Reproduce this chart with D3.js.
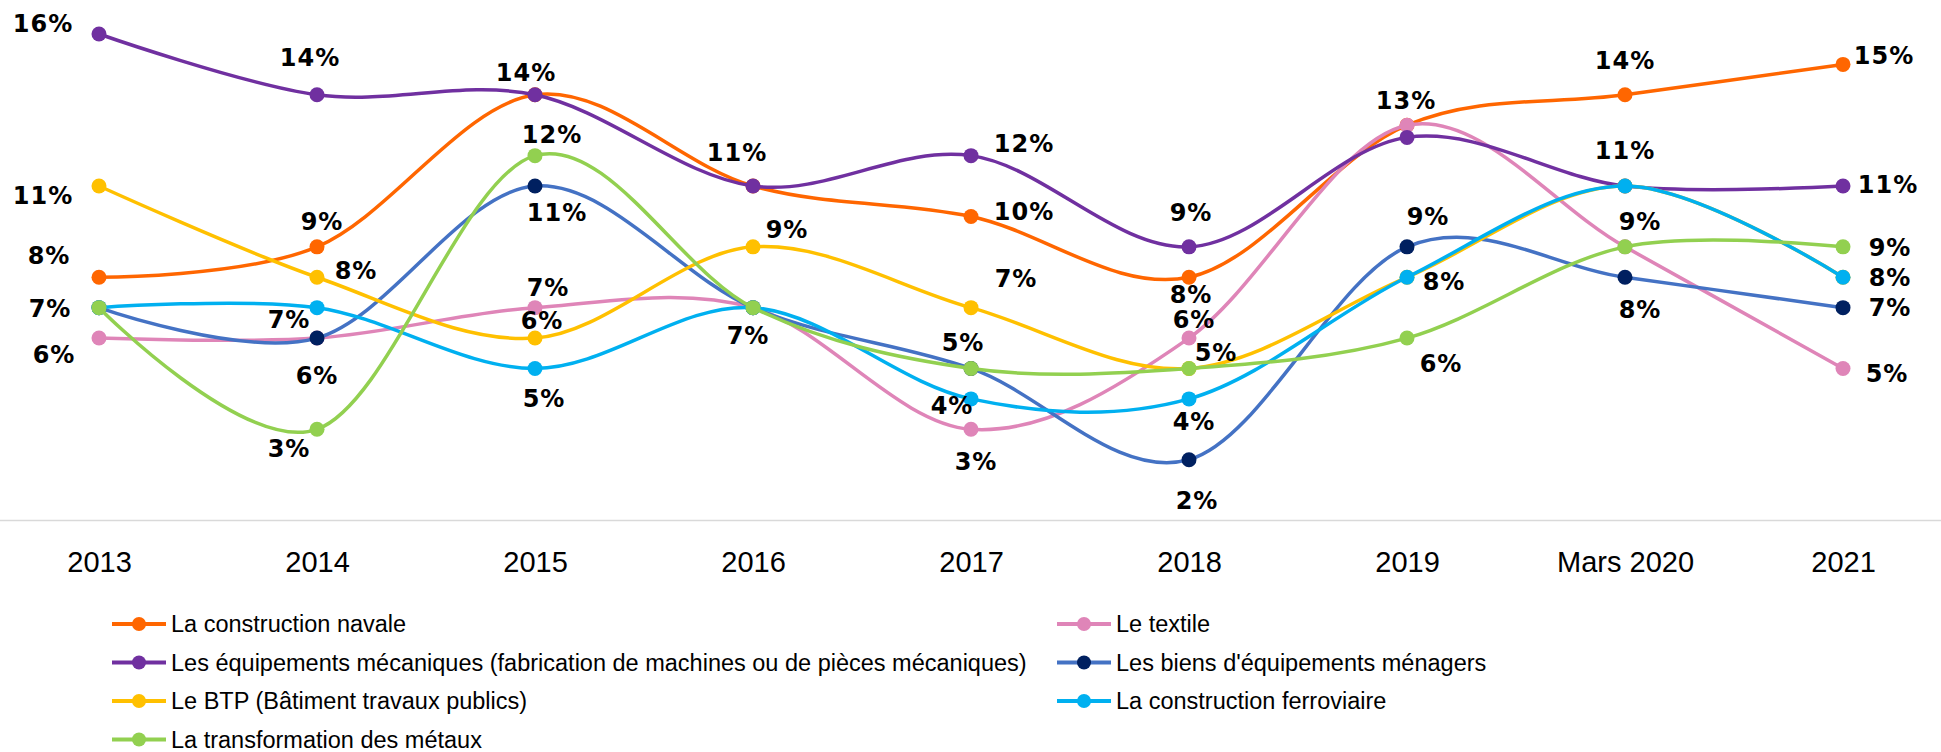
<!DOCTYPE html>
<html>
<head>
<meta charset="utf-8">
<script src="https://cdn.jsdelivr.net/npm/d3@7"></script>
<style>
  body { margin: 0; background: #fff; }
  .val { font-family: "DejaVu Sans", Verdana, sans-serif; font-weight: bold; font-size: 24px; letter-spacing: 1px; fill: #000; }
  .tick-lbl, .leg-lbl { font-family: "Liberation Sans", Arial, sans-serif; fill: #000; }
</style>
</head>
<body>
<div id="chart"></div>
<script>
const categories = ["2013", "2014", "2015", "2016", "2017", "2018", "2019", "Mars 2020", "2021"];

const seriesNames = [
  "La construction navale",
  "Le textile",
  "Les équipements mécaniques (fabrication de machines ou de pièces mécaniques)",
  "Les biens d'équipements ménagers",
  "Le BTP (Bâtiment travaux publics)",
  "La construction ferroviaire",
  "La transformation des métaux",
];

const navale = [8, 9, 14, 11, 10, 8, 13, 14, 15];
const textile = [6, 6, 7, 7, 3, 6, 13, 9, 5];
const mecaniques = [16, 14, 14, 11, 12, 9, 12.6, 11, 11];
const menagers = [7, 6, 11, 7, 5, 2, 9, 8, 7];
const btp = [11, 8, 6, 9, 7, 5, 8, 11, 8];
const ferroviaire = [7, 7, 5, 7, 4, 4, 8, 11, 8];
const metaux = [7, 3, 12, 7, 5, 5, 6, 9, 9];

const seriesValues = [navale, textile, mecaniques, menagers, btp, ferroviaire, metaux];

const lineColors = ["#FF6600", "#DF85B8", "#7030A0", "#4472C4", "#FFC000", "#00B0F0", "#92D050"];
const markerColors = ["#FF6600", "#DF85B8", "#7030A0", "#002060", "#FFC000", "#00B0F0", "#92D050"];

// label placement: [series, point, dx, dy] (offsets from the marker)
const labelSpots = [
  [2, 0, -56, -10], [4, 0, -56, 10], [0, 0, -50, -21], [6, 0, -49, 1], [1, 0, -45, 17],
  [2, 1, -7, -37], [0, 1, 5, -25], [4, 1, 39, -6], [5, 1, -28, 12], [3, 1, 0, 38], [6, 1, -28, 20],
  [2, 2, -9, -22], [6, 2, 17, -21], [3, 2, 22, 27], [1, 2, 13, -20], [4, 2, 7, -17], [5, 2, 9, 31],
  [2, 3, -16, -33], [4, 3, 34, -17], [6, 3, -5, 28],
  [2, 4, 53, -12], [0, 4, 53, -4], [4, 4, 45, -29], [6, 4, -8, -25], [5, 4, -19, 7], [1, 4, 5, 33],
  [2, 5, 2, -34], [0, 5, 2, 18], [1, 5, 5, -18], [6, 5, 27, -15], [5, 5, 5, 23], [3, 5, 8, 41],
  [0, 6, -1, -24], [3, 6, 21, -30], [5, 6, 37, 5], [6, 6, 34, 26],
  [0, 7, 0, -34], [5, 7, 0, -35], [6, 7, 15, -25], [3, 7, 15, 33],
  [0, 8, 41, -8], [2, 8, 45, -1], [6, 8, 47, 1], [5, 8, 47, 1], [3, 8, 47, 0], [1, 8, 44, 6],
];

const width = 1941;
const height = 752;

const svg = d3.select("#chart").append("svg")
  .attr("width", width)
  .attr("height", height);

const x = d3.scalePoint().domain(categories).range([99, 1843]);
const y = d3.scaleLinear().domain([0, 16]).range([520.5, 34]);

// baseline
svg.append("line")
  .attr("x1", 0).attr("x2", width)
  .attr("y1", y(0)).attr("y2", y(0))
  .attr("stroke", "#D9D9D9")
  .attr("stroke-width", 1.5);

const xAxis = d3.axisBottom(x).tickSize(0);
svg.append("g")
  .attr("transform", `translate(0, ${y(0)})`)
  .call(xAxis)
  .call((g) => g.select(".domain").remove())
  .selectAll("text")
  .attr("class", "tick-lbl")
  .attr("y", 41)
  .attr("dy", "0.35em")
  .style("font-size", "29px")
  .style("font-family", null);

const line = d3.line()
  .curve(d3.curveCardinal.tension(0))
  .x((d, i) => x(categories[i]))
  .y((d) => y(d));

seriesValues.forEach((vals, s) => {
  const g = svg.append("g").attr("class", "series");
  g.append("path")
    .datum(vals)
    .attr("fill", "none")
    .attr("stroke", lineColors[s])
    .attr("stroke-width", 3.5)
    .attr("d", line);
  g.selectAll("circle")
    .data(vals)
    .join("circle")
    .attr("cx", (d, i) => x(categories[i]))
    .attr("cy", (d) => y(d))
    .attr("r", 7.5)
    .attr("fill", markerColors[s]);
});

svg.append("g")
  .selectAll("text")
  .data(labelSpots)
  .join("text")
  .attr("class", "val")
  .attr("text-anchor", "middle")
  .attr("dominant-baseline", "central")
  .attr("x", (d) => x(categories[d[1]]) + d[2])
  .attr("y", (d) => y(seriesValues[d[0]][d[1]]) + d[3])
  .text((d) => Math.round(seriesValues[d[0]][d[1]]) + "%");

// legend, two columns filled row by row
const legendCols = [112, 1057];
const legendTop = 624;
const legendStep = 38.5;

const legend = svg.append("g")
  .selectAll("g")
  .data(seriesNames)
  .join("g")
  .attr("transform", (d, i) =>
    `translate(${legendCols[i % 2]}, ${legendTop + Math.floor(i / 2) * legendStep})`);

legend.append("line")
  .attr("x1", 0).attr("x2", 54)
  .attr("stroke", (d, i) => lineColors[i])
  .attr("stroke-width", 4);

legend.append("circle")
  .attr("cx", 27)
  .attr("r", 7)
  .attr("fill", (d, i) => markerColors[i]);

legend.append("text")
  .attr("class", "leg-lbl")
  .attr("x", 59)
  .attr("dy", "0.35em")
  .style("font-size", "23.5px")
  .text((d) => d);
</script>
</body>
</html>
